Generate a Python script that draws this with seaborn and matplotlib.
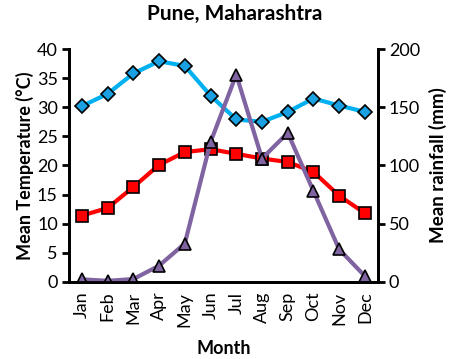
import numpy as np
import pandas as pd
import matplotlib
matplotlib.use("Agg")
import matplotlib.pyplot as plt
import seaborn as sns

months = ["Jan", "Feb", "Mar", "Apr", "May", "Jun", "Jul", "Aug", "Sep", "Oct", "Nov", "Dec"]
max_temp = [30.2, 32.3, 35.8, 37.9, 37.1, 32.0, 27.9, 27.5, 29.2, 31.5, 30.3, 29.2]
min_temp = [11.4, 12.7, 16.3, 20.1, 22.3, 22.8, 22.0, 21.2, 20.6, 18.9, 14.8, 11.8]
rainfall = [2.3, 1.0, 2.5, 14, 33, 120, 178, 106, 128, 78, 28, 5]

sns.set_style("white")
plt.rcParams['font.family'] = ['Lato', 'DejaVu Sans']
plt.rcParams['text.color'] = 'black'
plt.rcParams['axes.labelcolor'] = 'black'
plt.rcParams['xtick.color'] = 'black'
plt.rcParams['ytick.color'] = 'black'

df = pd.DataFrame({"month": months, "max": max_temp, "min": min_temp, "rain": rainfall})
df["pos"] = np.arange(len(months))

fig = plt.figure(figsize=(4.63, 3.59), dpi=100)
ax = fig.add_axes([0.149, 0.2145, 0.667, 0.649])
ax2 = ax.twinx()

sns.lineplot(data=df, x="pos", y="max", ax=ax, color="#00B0F0", lw=3,
             marker="D", markersize=7, markerfacecolor="#1BA1E2", markeredgecolor="black", markeredgewidth=1.2)
sns.lineplot(data=df, x="pos", y="min", ax=ax, color="#FF0000", lw=3,
             marker="s", markersize=9, markerfacecolor="#FF0000", markeredgecolor="black", markeredgewidth=1.2)
sns.lineplot(data=df, x="pos", y="rain", ax=ax2, color="#8064A2", lw=3,
             marker="^", markersize=9, markerfacecolor="#8064A2", markeredgecolor="black", markeredgewidth=1.2)

ax.set_xlim(-0.5, 11.5)
ax.set_ylim(0, 40)
ax2.set_ylim(0, 200)
ax.set_yticks(range(0, 41, 5))
ax2.set_yticks(range(0, 201, 50))
ax.set_xticks(df["pos"])
ax.set_xticklabels(months, rotation=90)
ax.set_xticks(np.arange(-0.5, 12, 1), minor=True)

for a in (ax, ax2):
    a.spines["top"].set_visible(False)
    for s in ("left", "bottom", "right"):
        a.spines[s].set_linewidth(2)
        a.spines[s].set_color("black")

ax.tick_params(axis="x", which="major", length=0, labelsize=13, pad=7)
ax.tick_params(axis="x", which="minor", length=6, width=2, direction="inout")
ax.tick_params(axis="y", length=5, width=2, direction="out", labelsize=13, left=True, pad=3)
ax2.tick_params(axis="y", length=5, width=2, direction="out", labelsize=13, right=True, pad=3)

ax.set_xlabel("Month", fontsize=13, fontweight="bold", labelpad=10)
ax.set_ylabel("Mean Temperature (°C)", fontsize=13, fontweight="bold", labelpad=2)
ax2.set_ylabel("Mean rainfall (mm)", fontsize=13.5, fontweight="bold", labelpad=6)
fig.suptitle("Pune, Maharashtra", x=0.507, y=0.99, fontsize=15, fontweight="bold")

fig.savefig("out.png", dpi=100)
